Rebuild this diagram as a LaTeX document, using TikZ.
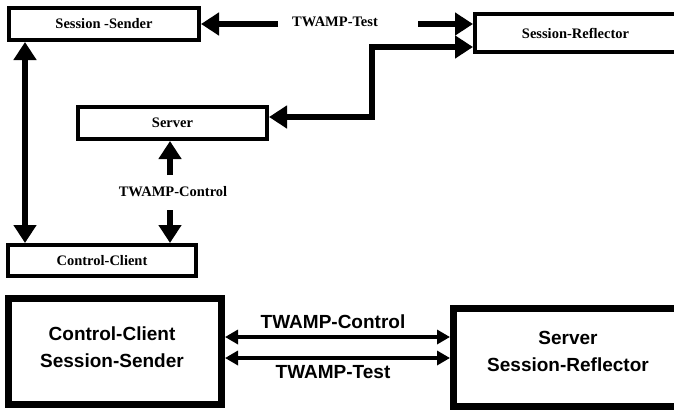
\documentclass[tikz,border=0pt]{standalone}
\usepackage{fontspec}
\newfontfamily\diagserif{Liberation Serif}
\newfontfamily\diagsans{Liberation Sans}
\usetikzlibrary{arrows.meta}
\begin{document}
\begin{tikzpicture}[x=1pt,y=-1pt,
  smallbox/.style={draw, line width=4pt, inner sep=0pt, font=\diagserif\bfseries\fontsize{14.5}{17}\selectfont},
  lbl/.style={inner sep=0pt, font=\diagserif\bfseries\fontsize{14.5}{17}\selectfont},
  bigbox/.style={draw, line width=7pt, inner sep=0pt},
  bigtext/.style={align=center, inner sep=0pt, font=\diagsans\bfseries\fontsize{19}{27}\selectfont},
  sanslbl/.style={inner sep=0pt, font=\diagsans\bfseries\fontsize{19}{22}\selectfont},
  fatarrow/.style={line width=5.5pt, -{Triangle[length=18pt,width=22pt]}},
  fatboth/.style={line width=5.5pt, line join=miter, {Triangle[length=18pt,width=22pt]}-{Triangle[length=18pt,width=22pt]}},
  thinboth/.style={line width=4pt, {Triangle[length=13pt,width=14pt]}-{Triangle[length=13pt,width=14pt]}}]
\useasboundingbox (0,0) rectangle (674,415);
\clip (0,0) rectangle (674,415);
% top diagram
\node[smallbox, minimum width=190pt, minimum height=32pt] (SS) at (104,24) {Session -Sender};
\node[smallbox, minimum width=201pt, minimum height=38pt] (SR) at (575.5,33) {Session-Reflector};
\node[smallbox, minimum width=189pt, minimum height=32pt] (SV) at (172.5,123) {Server};
\node[smallbox, minimum width=188pt, minimum height=31pt] (CC) at (102,260.5) {Control-Client};
\node[lbl] (TT) at (335,22) {TWAMP-Test};
\node[lbl] (TC) at (173,192) {TWAMP-Control};
\coordinate (t1) at (278,24);
\coordinate (t2) at (418,24);
\coordinate (bend) at (372,47);
\coordinate (sy) at (0,117);
\coordinate (vx) at (25,0);
\coordinate (c1) at (170,175);
\coordinate (c2) at (170,210);
\draw[fatarrow] (t1) -- (SS.east |- t1);
\draw[fatarrow] (t2) -- (SR.west |- t2);
\draw[fatboth] (SV.east |- sy) -| (bend) -- (SR.west |- bend);
\draw[fatboth] (SS.south -| vx) -- (CC.north -| vx);
\draw[fatarrow] (c1) -- (SV.south -| c1);
\draw[fatarrow] (c2) -- (CC.north -| c2);
% bottom diagram
\node[bigbox, minimum width=213pt, minimum height=106pt] (L) at (115,351.5) {};
\node[bigtext] (Lt) at (112,347) {Control-Client\\Session-Sender};
\node[bigbox, minimum width=233pt, minimum height=98pt] (R) at (570,357.5) {};
\node[bigtext] (Rt) at (568,351) {Server\\Session-Reflector};
\coordinate (y1) at (0,337);
\coordinate (y2) at (0,358);
\draw[thinboth] (L.east |- y1) -- (R.west |- y1);
\draw[thinboth] (L.east |- y2) -- (R.west |- y2);
\node[sanslbl] (BC) at (333,322) {TWAMP-Control};
\node[sanslbl] (BT) at (333,372) {TWAMP-Test};
\end{tikzpicture}
\end{document}
